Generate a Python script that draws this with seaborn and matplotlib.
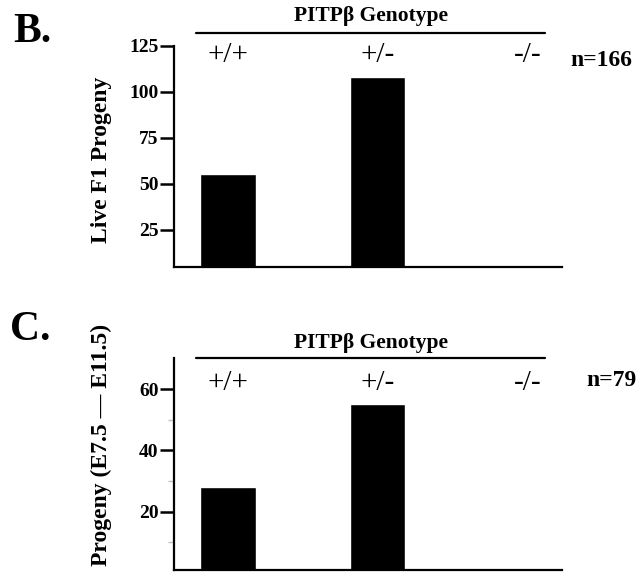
import matplotlib
matplotlib.use('Agg')
import matplotlib.pyplot as plt
import seaborn as sns
import pandas as pd

# 데이터
genotypes = ['+/+', '+/-', '-/-']
live_f1 = [55, 108, 0]
embryos = [28, 55, 0]
b_ticks = [25, 50, 75, 100, 125]
c_ticks = [20, 40, 60]
c_minor = [10, 30, 50]

sns.set_theme(style='white')
plt.rcParams['font.family'] = ['Liberation Serif', 'DejaVu Serif']
plt.rcParams['font.weight'] = 'bold'
plt.rcParams['axes.linewidth'] = 1.6
for k in ['text.color', 'axes.labelcolor', 'xtick.color', 'ytick.color', 'axes.edgecolor']:
    plt.rcParams[k] = 'black'

fig = plt.figure(figsize=(6.4, 5.76), dpi=100)
ax_b = fig.add_axes([0.2719, 0.5365, 0.606, 0.3842])
ax_c = fig.add_axes([0.2719, 0.0104, 0.606, 0.3675])


def draw_panel(ax, values, ylim, ticks, head_y, line_y, geno_y, n_text, n_x, n_y):
    df = pd.DataFrame({'genotype': genotypes, 'count': values})
    sns.barplot(data=df, x='genotype', y='count', order=genotypes, color='black',
                saturation=1, width=0.37, ax=ax)
    ax.set_xlim(-0.36, 2.23)
    ax.set_ylim(*ylim)
    ax.set_yticks(ticks)
    ax.set_xticks([])
    ax.set_xlabel('')
    ax.set_ylabel('')
    ax.tick_params(axis='y', left=True, labelsize=14, length=10, width=1.8, pad=1, color='black')
    sns.despine(ax=ax)
    trans = ax.get_xaxis_transform()
    # 헤더 선과 제목
    ax.plot([-0.21, 2.118], [line_y, line_y], transform=trans, clip_on=False, color='black', lw=1.6)
    ax.text(0.953, head_y, 'PITPβ Genotype', transform=trans, ha='center', va='center', fontsize=15.5)
    for i, g in enumerate(genotypes):
        ax.text(i, geno_y, g, transform=trans, ha='center', va='center', fontsize=21, fontweight='normal')
    ax.text(n_x, n_y, n_text, transform=trans, ha='left', va='center', fontsize=17)


draw_panel(ax_b, live_f1, (4.7, 125), b_ticks, 1.134, 1.0587, 0.958, 'n=166', 2.287, 0.935)
draw_panel(ax_c, embryos, (1, 70), c_ticks, 1.072, 1.0, 0.883, 'n=79', 2.39, 0.897)

ax_c.set_yticks(c_minor, minor=True)
ax_c.tick_params(axis='y', which='minor', left=True, length=4, width=1, color='0.75')

fig.text(0.02, 0.9266, 'B.', fontsize=30, va='baseline', ha='left')
fig.text(0.0156, 0.4097, 'C.', fontsize=30, va='baseline', ha='left')
fig.text(0.158, 0.722, 'Live F1 Progeny', rotation=90, ha='center', va='center', fontsize=17)
fig.text(0.158, 0.2274, 'Progeny (E7.5 — E11.5)', rotation=90, ha='center', va='center', fontsize=17)

fig.savefig('out.png', dpi=100)
